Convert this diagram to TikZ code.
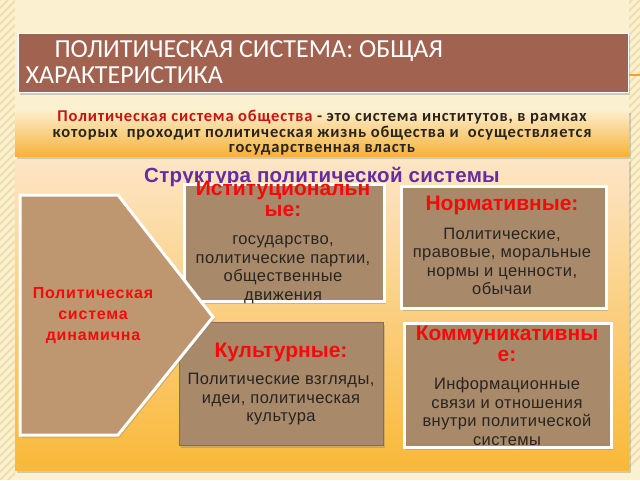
\documentclass[tikz,border=0pt]{standalone}
\usepackage{fontspec}
\setmainfont{Liberation Sans}
\newfontfamily\calib{Carlito}
\newfontfamily\calibsp[LetterSpace=5]{Carlito}
\newfontfamily\arsp[LetterSpace=2.5]{Liberation Sans}
\newfontfamily\arspw[LetterSpace=5]{Liberation Sans}
\newfontfamily\arsps[LetterSpace=1.5]{Liberation Sans}
\usetikzlibrary{shadows}
\definecolor{bgcream}{RGB}{251,241,208}
\definecolor{stripe}{RGB}{238,222,170}
\definecolor{titlebrown}{RGB}{161,98,80}
\definecolor{bandtop}{RGB}{253,238,204}
\definecolor{bandbot}{RGB}{246,178,58}
\definecolor{paneltop}{RGB}{253,229,197}
\definecolor{panelbot}{RGB}{249,184,56}
\definecolor{boxtan}{RGB}{168,138,107}
\definecolor{penttan}{RGB}{190,151,112}
\definecolor{txtred}{RGB}{245,10,10}
\definecolor{defred}{RGB}{200,20,20}
\definecolor{txtdark}{RGB}{40,36,32}
\definecolor{purp}{RGB}{100,45,160}
\definecolor{deforange}{RGB}{240,160,50}
\tikzset{
  shad/.style={drop shadow={opacity=0.35,shadow xshift=1.5pt,shadow yshift=-2.5pt}},
  bar/.style={rectangle,inner sep=0pt,anchor=north west},
  tanbox/.style={bar,fill=boxtan,shad},
  whiteedge/.style={draw=white,line width=2.5pt},
  darkedge/.style={draw=boxtan!80!black,line width=0.8pt},
  headtxt/.style={text=txtred,align=center,font=\bfseries\fontsize{21}{21}\selectfont},
  bodytxt/.style={text=txtdark,align=center,font=\arsp\fontsize{16.5}{18.5}\selectfont},
}
\begin{document}
\begin{tikzpicture}[x=1pt,y=-1pt]
\useasboundingbox (0,0) rectangle (640,480);
% background
\fill[bgcream] (0,0) rectangle (640,480);
\begin{scope}
  \clip (0,0) rectangle (15,480) (629,0) rectangle (640,480);
  \foreach \k in {-40,-32,...,1100} {
    \draw[stripe,line width=2pt] (\k,0) -- (\k-480,480);
  }
\end{scope}
% title bar
\node[bar,fill=titlebrown,draw=white,line width=1pt,shad,
      minimum width=610pt,minimum height=59pt] (title) at (18,33) {};
\draw[deforange,line width=1.2pt] (title.east |- 0,75) -- (640,75);
\node[anchor=base west,text=white,font=\calib\fontsize{26}{26}\selectfont] (t1) at (51,57) {ПОЛИТИЧЕСКАЯ СИСТЕМА: ОБЩАЯ};
\node[anchor=base west,text=white,font=\calib\fontsize{26}{26}\selectfont] (t2) at (22,83) {ХАРАКТЕРИСТИКА};
% definition band
\node[bar,top color=bandtop,bottom color=bandbot,shad,
      minimum width=614pt,minimum height=46pt] (band) at (15,110) {};
\node[align=center,text=txtdark,font=\calibsp\bfseries\fontsize{16.5}{15.6}\selectfont] (def) at (322,133) {%
  {\color{defred}Политическая система общества} - это система институтов, в рамках\\
  которых\ \ проходит политическая жизнь общества и\ \ осуществляется\\
  государственная власть};
% main panel
\node[bar,top color=paneltop,bottom color=panelbot,shad,
      minimum width=614pt,minimum height=311pt] (panel) at (15,159) {};
\node[text=purp,font=\arsps\bfseries\fontsize{20.5}{20.5}\selectfont,anchor=base] (struct) at (322,182) {Структура политической системы};
% boxes
\node[tanbox,whiteedge,minimum width=200pt,minimum height=117pt] (inst) at (183,183) {};
\node[tanbox,whiteedge,minimum width=205pt,minimum height=122pt] (norm) at (400,185) {};
\node[tanbox,darkedge,minimum width=204pt,minimum height=123pt] (cult) at (179,322) {};
\node[tanbox,whiteedge,minimum width=207pt,minimum height=124pt] (comm) at (403,322) {};
% pentagon (on top of the boxes)
\draw[fill=penttan,draw=white,line width=3pt,line join=miter,shad]
  (20,195) -- (118,195) -- (213,317) -- (118,435) -- (20,435) -- cycle;
\node[align=center,text=txtred,font=\arspw\bfseries\fontsize{16}{21}\selectfont] (dyn) at (93,316) {Политическая\\система\\динамична};
% box texts
\node[headtxt] (insth) at (283,199) {Иституциональн\\ые:};
\node[bodytxt] (instb) at (283,269.5) {государство,\\политические партии,\\общественные\\движения};
\node[headtxt] (normh) at (502,205) {Нормативные:};
\node[bodytxt] (normb) at (502,261.5) {Политические,\\правовые, моральные\\нормы и ценности,\\обычаи};
\node[headtxt] (culth) at (281,352) {Культурные:};
\node[bodytxt] (cultb) at (281,399.5) {Политические взгляды,\\идеи, политическая\\культура};
\node[headtxt] (commh) at (507,343.5) {Коммуникативны\\е:};
\node[bodytxt] (commb) at (507,411.5) {Информационные\\связи и отношения\\внутри политической\\системы};
\end{tikzpicture}
\end{document}
